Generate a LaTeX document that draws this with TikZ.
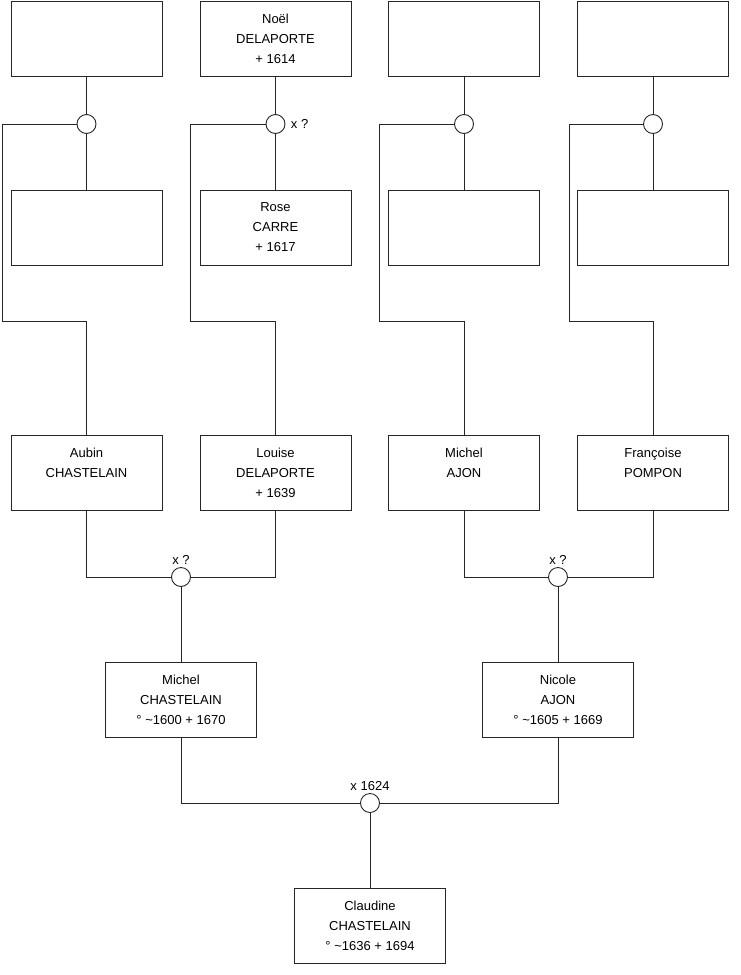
\documentclass[tikz,border=0pt]{standalone}
\usepackage{fontspec}
\setmainfont{Liberation Sans}
\usetikzlibrary{positioning}

\begin{document}
\begin{tikzpicture}[
    x=1pt, y=-1pt,
    font=\fontsize{13}{20}\selectfont,
    line width=0.9pt,
    person/.style={draw=black!85, fill=white, minimum width=151pt, minimum height=75pt, inner sep=0pt, align=center},
    union/.style={circle, draw=black!85, fill=white, minimum size=19pt, inner sep=0pt},
    mlabel/.style={inner sep=1pt},
    link/.style={draw=black!85}
]

% Frame
\useasboundingbox (0,0) rectangle (740,975);

% Great-grandparents (top row)
\node[person] (aubinF) at (86.5,38.5) {};
\node[person] (noel) at (275.5,38.5) {Noël\\DELAPORTE\\+ 1614};
\node[person] (michelF) at (464,38.5) {};
\node[person] (francoiseF) at (653,38.5) {};

% Great-grandmothers (second row)
\node[person] (aubinM) at (86.5,227.5) {};
\node[person] (rose) at (275.5,227.5) {Rose\\CARRE\\+ 1617};
\node[person] (michelM) at (464,227.5) {};
\node[person] (francoiseM) at (653,227.5) {};

% Unions of great-grandparents
\node[union] (u1) at (86.5,124) {};
\node[union] (u2) at (275.5,124) {};
\node[union] (u3) at (464,124) {};
\node[union] (u4) at (653,124) {};
\node[mlabel, right=4pt of u2] (x2) {x ?};

% Grandparents
\node[person] (aubin) at (86.5,472.5) {Aubin\\CHASTELAIN\\\phantom{0}};
\node[person] (louise) at (275.5,472.5) {Louise\\DELAPORTE\\+ 1639};
\node[person] (michelA) at (464,472.5) {Michel\\AJON\\\phantom{0}};
\node[person] (francoise) at (653,472.5) {Françoise\\POMPON\\\phantom{0}};

% Rails down to the grandparents
\coordinate (r1) at (2,321);
\coordinate (r2) at (190,321);
\coordinate (r3) at (379,321);
\coordinate (r4) at (569,321);

% Unions of grandparents
\node[union] (u5) at (181,577) {};
\node[union] (u6) at (558,577) {};
\node[mlabel, above=1pt of u5] (x5) {x ?};
\node[mlabel, above=1pt of u6] (x6) {x ?};

% Parents
\node[person] (michelC) at (181,699.5) {Michel\\CHASTELAIN\\° \textasciitilde 1600 + 1670};
\node[person] (nicole) at (558,699.5) {Nicole\\AJON\\° \textasciitilde 1605 + 1669};

% Union of parents
\node[union] (u7) at (370,803) {};
\node[mlabel, above=1pt of u7] (x7) {x 1624};

% Child
\node[person] (claudine) at (370,926) {Claudine\\CHASTELAIN\\° \textasciitilde 1636 + 1694};

% Links, top part
\foreach \t/\u/\m/\r/\c in {aubinF/u1/aubinM/r1/aubin, noel/u2/rose/r2/louise,
    michelF/u3/michelM/r3/michelA, francoiseF/u4/francoiseM/r4/francoise} {
  \draw[link] (\t) -- (\u);
  \draw[link] (\u) -- (\m);
  \draw[link] (\u.west) -| (\r) -| (\c.north);
}

% Links, bottom part
\draw[link] (aubin.south) |- (u5.west);
\draw[link] (louise.south) |- (u5.east);
\draw[link] (u5) -- (michelC);
\draw[link] (michelA.south) |- (u6.west);
\draw[link] (francoise.south) |- (u6.east);
\draw[link] (u6) -- (nicole);
\draw[link] (michelC.south) |- (u7.west);
\draw[link] (nicole.south) |- (u7.east);
\draw[link] (u7) -- (claudine);

\end{tikzpicture}
\end{document}
